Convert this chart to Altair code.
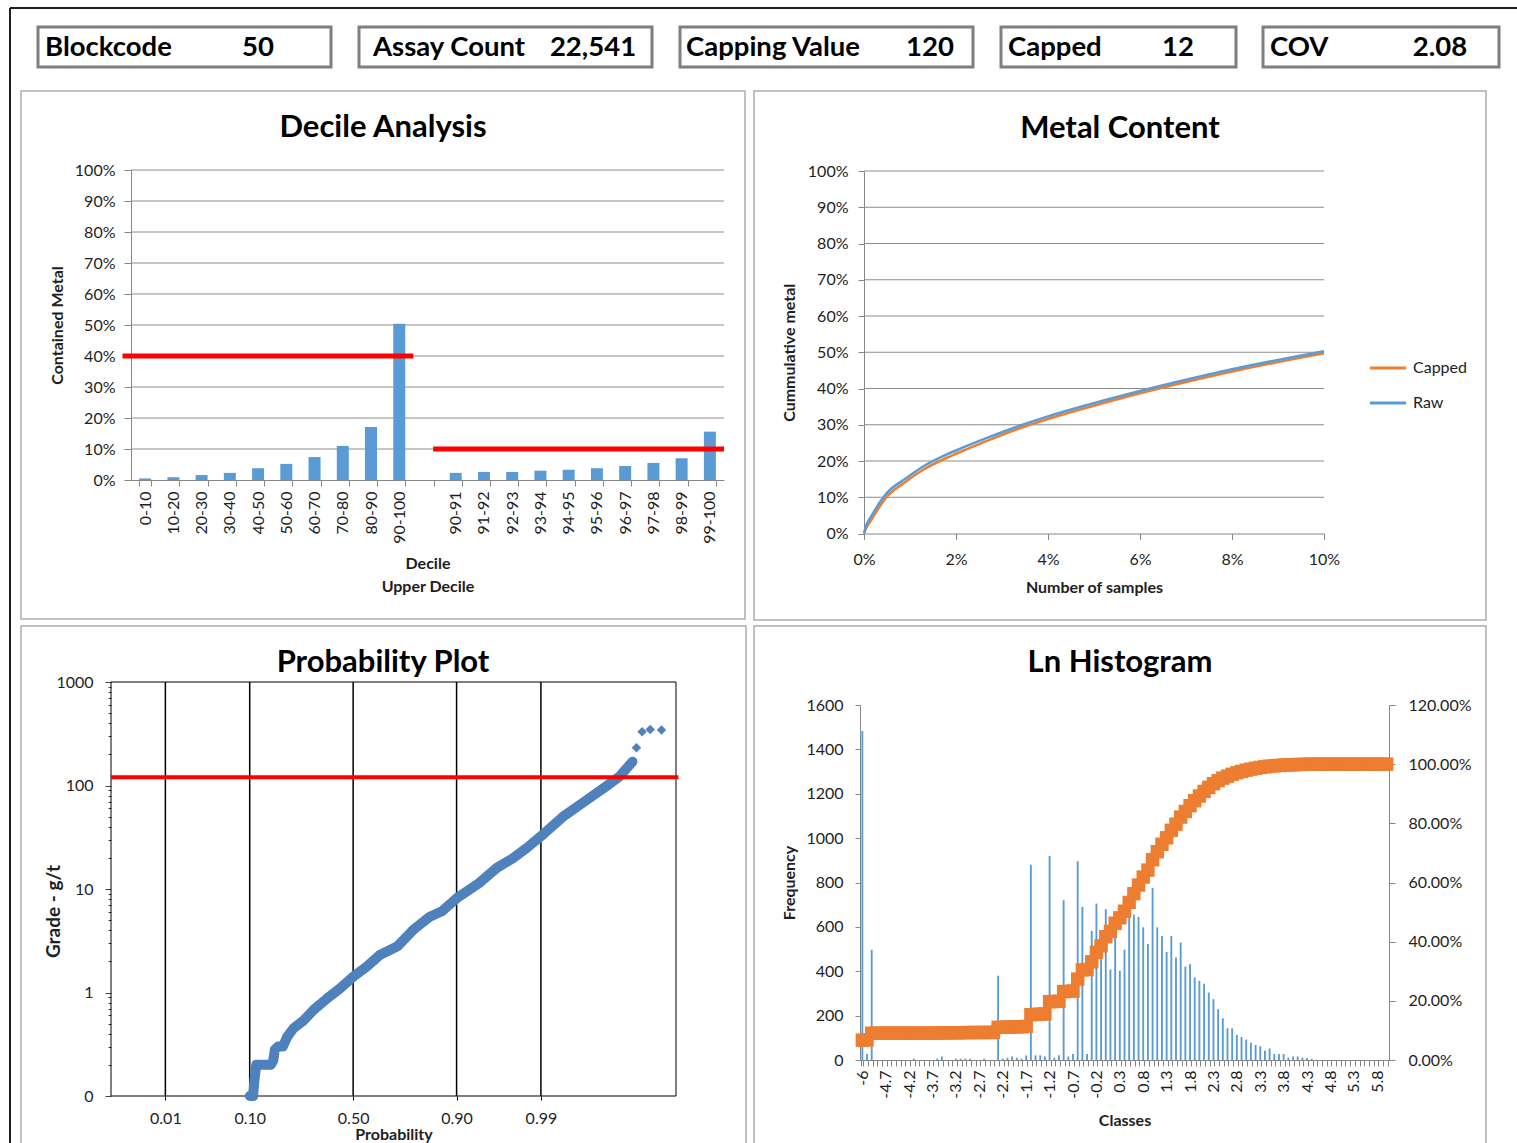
import altair as alt
import pandas as pd
from statistics import NormalDist

W, H = 1517, 1143
FONT = "Lato"
BLUE = "#5B9BD5"
ORANGE = "#ED7D31"
PBLUE = "#4F81BD"
RED = "#FF0000"
GRID = "#8C8C8C"
AXC = "#868686"
TXT = "#1E1E1E"

# ---------------- data ----------------
header_labels = ["Blockcode", "Assay Count", "Capping Value", "Capped", "COV"]
header_values = ["50", "22,541", "120", "12", "2.08"]

decile_cats = ["0-10", "10-20", "20-30", "30-40", "40-50", "50-60", "60-70", "70-80", "80-90", "90-100", " ",
               "90-91", "91-92", "92-93", "93-94", "94-95", "95-96", "96-97", "97-98", "98-99", "99-100"]
decile_share = [0.005, 0.009, 0.016, 0.023, 0.038, 0.052, 0.074, 0.110, 0.171, 0.504, None,
                0.023, 0.026, 0.026, 0.030, 0.033, 0.038, 0.045, 0.055, 0.070, 0.156]
decile_ref_level = [0.40, 0.10]
decile_ref_from = [-0.3, 10.7]
decile_ref_to = [10.0, 21.0]
pct_levels = [0.1, 0.2, 0.3, 0.4, 0.5, 0.6, 0.7, 0.8, 0.9, 1.0]

metal_samples = [0, 0.05, 0.15, 0.5, 0.9, 1.25, 1.8, 2.0, 2.7, 3.4, 4.0, 4.9, 6.0, 7.0, 8.0, 9.25, 10.0]
metal_raw = [0, 2.3, 4.6, 11.2, 15.1, 18.2, 21.8, 22.9, 26.5, 29.8, 32.3, 35.6, 39.3, 42.4, 45.3, 48.5, 50.3]
metal_capped = [0, 1.5, 3.6, 10.2, 14.2, 17.3, 20.9, 22.0, 25.7, 29.1, 31.6, 34.9, 38.7, 41.8, 44.7, 47.9, 49.7]
metal_levels = [10, 20, 30, 40, 50, 60, 70, 80, 90, 100]

prob_score = [-1.28, -1.24, -1.22, -1.20, -1.15, -1.08, -1.02, -0.99, -0.97, -0.93, -0.87, -0.82, -0.74,
              -0.61, -0.49, -0.32, -0.16, 0.0, 0.17, 0.33, 0.55, 0.74, 0.95, 1.10, 1.28, 1.56, 1.78,
              1.98, 2.15, 2.32, 2.60, 2.89, 3.13, 3.30, 3.46]
prob_grade = [0.1, 0.1, 0.15, 0.2, 0.2, 0.2, 0.2, 0.22, 0.28, 0.3, 0.3, 0.37, 0.45,
              0.54, 0.68, 0.88, 1.1, 1.42, 1.78, 2.3, 2.8, 4.0, 5.4, 6.1, 8.1, 11.4, 16,
              19.8, 24.9, 32, 50, 72, 97.5, 122, 170]
prob_out_score = [3.51, 3.58, 3.68, 3.82]
prob_out_grade = [232, 331, 347, 344]
prob_ticks = [0.01, 0.10, 0.50, 0.90, 0.99]
grade_major = [0.1, 1, 10, 100, 1000]
grade_minor = [0.2, 0.3, 0.4, 0.5, 0.6, 0.7, 0.8, 0.9, 2, 3, 4, 5, 6, 7, 8, 9,
               20, 30, 40, 50, 60, 70, 80, 90, 200, 300, 400, 500, 600, 700, 800, 900]
capping_value = 120

hist_classes = [-6,
                -5.1, -5.0, -4.9, -4.8, -4.7, -4.6, -4.5, -4.4, -4.3, -4.2,
                -4.1, -4.0, -3.9, -3.8, -3.7, -3.6, -3.5, -3.4, -3.3, -3.2,
                -3.1, -3.0, -2.9, -2.8, -2.7, -2.6, -2.5, -2.4, -2.3, -2.2,
                -2.1, -2.0, -1.9, -1.8, -1.7, -1.6, -1.5, -1.4, -1.3, -1.2,
                -1.1, -1.0, -0.9, -0.8, -0.7, -0.6, -0.5, -0.4, -0.3, -0.2,
                -0.1, 0.0, 0.1, 0.2, 0.3, 0.4, 0.5, 0.6, 0.7, 0.8,
                0.9, 1.0, 1.1, 1.2, 1.3, 1.4, 1.5, 1.6, 1.7, 1.8,
                1.9, 2.0, 2.1, 2.2, 2.3, 2.4, 2.5, 2.6, 2.7, 2.8,
                2.9, 3.0, 3.1, 3.2, 3.3, 3.4, 3.5, 3.6, 3.7, 3.8,
                3.9, 4.0, 4.1, 4.2, 4.3, 4.4, 4.5, 4.6, 4.7, 4.8,
                4.9, 5.0, 5.1, 5.2, 5.3, 5.4, 5.5, 5.6, 5.7, 5.8,
                5.9, 6.0]
hist_freq = [1483, 27, 497, 0, 0, 0, 0, 0, 0, 0,
             0, 6, 0, 0, 0, 0, 6, 16, 0, 0,
             6, 6, 6, 6, 0, 0, 6, 0, 0, 380,
             6, 10, 16, 10, 6, 21, 880, 21, 21, 16,
             920, 10, 21, 720, 16, 27, 896, 690, 27, 582,
             705, 490, 680, 408, 605, 402, 497, 660, 655, 645,
             598, 523, 776, 598, 559, 487, 559, 462, 529, 421,
             431, 372, 357, 344, 304, 274, 229, 188, 143, 143,
             113, 104, 92, 78, 68, 62, 42, 52, 27, 27,
             27, 11, 16, 16, 11, 9, 5, 0, 0, 0,
             0, 0, 0, 0, 0, 0, 0, 0, 0, 0,
             0, 0, 0]

# ---------------- layout (pixels) ----------------
HEADER_BOXES = [(38, 331), (359, 652), (680, 973), (1001, 1236), (1263, 1499)]
HEADER_LABEL_X = [45, 373, 686, 1008, 1270]
HEADER_VALUE_X = [258, 593, 930, 1178, 1440]
FRAMES = [(21, 91, 745, 619), (754, 91, 1486, 620), (21, 626, 746, 1160), (754, 626, 1486, 1160)]
TITLES = [("Decile Analysis", 383, 128), ("Metal Content", 1120, 129),
          ("Probability Plot", 383, 663), ("Ln Histogram", 1120, 663)]
D_X, D_Y = [131, 724], [480, 170]
M_X, M_Y = [864, 1324], [533.5, 171]
P_X, P_Y = [111, 676], [1096, 682]
H_X, H_Y = [860, 1389], [1060, 705]


def axis(orient, pos, **kw):
    if orient == "bottom":
        off = pos - H
    elif orient == "left":
        off = -pos
    else:
        off = pos - W
    base = dict(labelFlush=False, labelOverlap=False, grid=False)
    base.update(kw)
    return alt.Axis(orient=orient, offset=off, **base)


def lin(domain, rng):
    return alt.Scale(domain=domain, range=rng, nice=False, zero=False)


layers = []

# outer border
border = pd.DataFrame({"x": [10, 10], "x2": [W, 10], "y": [8, 8], "y2": [8, H]})
layers.append(alt.Chart(border).mark_rule(color="#1F1F1F", strokeWidth=2).encode(
    x=alt.X("x:Q", scale=None), x2="x2:Q", y=alt.Y("y:Q", scale=None), y2="y2:Q"))

# header boxes
hdr = pd.DataFrame({"label": header_labels, "value": header_values,
                    "x0": [b[0] for b in HEADER_BOXES], "x1": [b[1] for b in HEADER_BOXES],
                    "lx": HEADER_LABEL_X, "vx": HEADER_VALUE_X})
hdr["y0"], hdr["y1"], hdr["ty"] = 27, 67, 48
layers.append(alt.Chart(hdr).mark_rect(fill="white", stroke="#7F7F7F", strokeWidth=3).encode(
    x=alt.X("x0:Q", scale=None), x2="x1:Q", y=alt.Y("y0:Q", scale=None), y2="y1:Q"))
layers.append(alt.Chart(hdr).mark_text(align="left", baseline="middle", font=FONT, fontSize=27.5,
                                       fontWeight="bold", color="black").encode(
    x=alt.X("lx:Q", scale=None), y=alt.Y("ty:Q", scale=None), text="label:N"))
layers.append(alt.Chart(hdr).mark_text(align="center", baseline="middle", font=FONT, fontSize=27.5,
                                       fontWeight="bold", color="black").encode(
    x=alt.X("vx:Q", scale=None), y=alt.Y("ty:Q", scale=None), text="value:N"))

# panel frames and titles
frm = pd.DataFrame(FRAMES, columns=["x0", "y0", "x1", "y1"])
layers.append(alt.Chart(frm).mark_rect(fillOpacity=0, stroke="#ADADAD", strokeWidth=1.5).encode(
    x=alt.X("x0:Q", scale=None), x2="x1:Q", y=alt.Y("y0:Q", scale=None), y2="y1:Q"))
ttl = pd.DataFrame(TITLES, columns=["t", "x", "y"])
layers.append(alt.Chart(ttl).mark_text(align="center", baseline="middle", font=FONT, fontSize=31,
                                       fontWeight="bold", color="black").encode(
    x=alt.X("x:Q", scale=None), y=alt.Y("y:Q", scale=None), text="t:N"))

# ---------------- Decile Analysis ----------------
dec = pd.DataFrame({"cat": decile_cats, "share": decile_share}).dropna()
dx_band = alt.Scale(domain=decile_cats, range=D_X, paddingInner=0.575, paddingOuter=0.2875)
dx_lin = lin([0, len(decile_cats)], D_X)
dy = lin([0, 1], D_Y)
dgrid = pd.DataFrame({"lvl": pct_levels})
dgrid["a"], dgrid["b"] = 0, len(decile_cats)
layers.append(alt.Chart(dgrid).mark_rule(color=GRID, strokeWidth=1).encode(
    x=alt.X("a:Q", scale=dx_lin, axis=None), x2="b:Q",
    y=alt.Y("lvl:Q", scale=dy, axis=None)))
layers.append(alt.Chart(dec).mark_bar(color=BLUE).encode(
    x=alt.X("cat:N", scale=dx_band, sort=decile_cats,
            axis=axis("bottom", D_Y[0], title=["Decile", "Upper Decile"], labelAngle=-90,
                      tickBand="extent", tickSize=6, labelPadding=5, titlePadding=12,
                      titleLineHeight=23)),
    y=alt.Y("share:Q", scale=dy,
            axis=axis("left", D_X[0], values=[0] + pct_levels, format=".0%", title="Contained Metal",
                      tickSize=7, labelPadding=9, titlePadding=9))))
dref = pd.DataFrame({"lvl": decile_ref_level, "a": decile_ref_from, "b": decile_ref_to})
layers.append(alt.Chart(dref).mark_rule(color=RED, strokeWidth=5).encode(
    x=alt.X("a:Q", scale=dx_lin, axis=None), x2="b:Q",
    y=alt.Y("lvl:Q", scale=dy, axis=None)))

# ---------------- Metal Content ----------------
mx = lin([0, 10], M_X)
my = lin([0, 100], M_Y)
mgrid = pd.DataFrame({"lvl": metal_levels})
mgrid["a"], mgrid["b"] = 0, 10
layers.append(alt.Chart(mgrid).mark_rule(color=GRID, strokeWidth=1).encode(
    x=alt.X("a:Q", scale=mx, axis=None), x2="b:Q",
    y=alt.Y("lvl:Q", scale=my, axis=None)))
metal = pd.concat([
    pd.DataFrame({"series": "Capped", "samples": metal_samples, "metal": metal_capped}),
    pd.DataFrame({"series": "Raw", "samples": metal_samples, "metal": metal_raw}),
])
layers.append(alt.Chart(metal).mark_line(strokeWidth=2.5, interpolate="monotone").encode(
    x=alt.X("samples:Q", scale=mx,
            axis=axis("bottom", M_Y[0], values=[0, 2, 4, 6, 8, 10], labelExpr="datum.value + '%'",
                      title="Number of samples", tickSize=6, labelPadding=12, titlePadding=12)),
    y=alt.Y("metal:Q", scale=my,
            axis=axis("left", M_X[0], values=[0] + metal_levels, labelExpr="datum.value + '%'",
                      title="Cummulative metal", tickSize=6, labelPadding=10, titlePadding=10)),
    color=alt.Color("series:N", scale=alt.Scale(domain=["Capped", "Raw"], range=[ORANGE, BLUE]),
                    legend=alt.Legend(title=None, orient="none", legendX=1368, legendY=348,
                                      symbolType="stroke", symbolSize=1300, symbolStrokeWidth=3,
                                      labelFont=FONT, labelFontSize=16, labelColor=TXT,
                                      rowPadding=7, labelOffset=5, padding=0)),
    order=alt.Order("samples:Q")))

# ---------------- Probability Plot ----------------
z_ticks = [NormalDist().inv_cdf(p) for p in prob_ticks]
px = lin([-3, 4], P_X)
py = alt.Scale(type="log", domain=[0.1, 1000], range=P_Y, nice=False)
pframe = pd.DataFrame({"a": [-3], "b": [4], "c": [0.1], "d": [1000]})
layers.append(alt.Chart(pframe).mark_rect(fillOpacity=0, stroke="black", strokeWidth=1).encode(
    x=alt.X("a:Q", scale=px, axis=None), x2="b:Q",
    y=alt.Y("c:Q", scale=py, axis=axis("left", P_X[0], values=grade_minor, labels=False, domain=False,
                                       tickSize=3, tickColor="#444444", title=None)),
    y2="d:Q"))
pv = pd.DataFrame({"z": z_ticks})
pv["c"], pv["d"] = 0.1, 1000
layers.append(alt.Chart(pv).mark_rule(color="black", strokeWidth=1.5).encode(
    x=alt.X("z:Q", scale=px,
            axis=axis("bottom", P_Y[0], values=z_ticks,
                      labelExpr="format(cumulativeNormal(datum.value), '.2f')",
                      title="Probability", domain=False, tickSize=4, tickColor="black",
                      labelPadding=10, titlePadding=0, titleFontSize=16)),
    y=alt.Y("c:Q", scale=py,
            axis=axis("left", P_X[0], values=grade_major,
                      labelExpr="datum.value < 1 ? '0' : format(datum.value, 'd')",
                      title="Grade - g/t", domain=False, tickSize=6, tickColor="#444444",
                      labelPadding=12, titleFontSize=19, titleX=-58, titleY=911,
                      titleBaseline="middle", titleAlign="center", titleAngle=-90)),
    y2="d:Q"))
pcurve = pd.DataFrame({"z": prob_score, "g": prob_grade})
pout = pd.DataFrame({"z": prob_out_score, "g": prob_out_grade})
layers.append(alt.Chart(pcurve).mark_line(color=PBLUE, strokeWidth=10, strokeJoin="round",
                                          strokeCap="round").encode(
    x=alt.X("z:Q", scale=px, axis=None), y=alt.Y("g:Q", scale=py, axis=None),
    order=alt.Order("z:Q")))
layers.append(alt.Chart(pd.concat([pcurve, pout])).mark_point(
    shape="diamond", filled=True, size=90, color=PBLUE, opacity=1).encode(
    x=alt.X("z:Q", scale=px, axis=None), y=alt.Y("g:Q", scale=py, axis=None)))
pcap = pd.DataFrame({"g": [capping_value], "a": [-3], "b": [4.03]})
layers.append(alt.Chart(pcap).mark_rule(color=RED, strokeWidth=4).encode(
    x=alt.X("a:Q", scale=px, axis=None), x2="b:Q", y=alt.Y("g:Q", scale=py, axis=None)))

# ---------------- Ln Histogram ----------------
cls = [str(c) for c in hist_classes]
hist = pd.DataFrame({"idx": list(range(len(cls))), "cls": cls, "freq": hist_freq})
shown = cls[::5]
label_expr = "indexof([" + ",".join("'%s'" % s for s in shown) + "], datum.label) >= 0 ? datum.label : ''"
hx = alt.Scale(domain=cls, range=H_X, paddingInner=0.6, paddingOuter=0.3)
hy = lin([0, 1600], H_Y)
hy2 = lin([0, 1.2], H_Y)
layers.append(alt.Chart(hist).transform_filter("datum.freq > 0").mark_bar(color=BLUE).encode(
    x=alt.X("cls:N", scale=hx, sort=cls,
            axis=axis("bottom", H_Y[0], labelExpr=label_expr, labelAngle=-90, tickBand="extent",
                      tickSize=6, labelPadding=4, title="Classes", titlePadding=14)),
    y=alt.Y("freq:Q", scale=hy,
            axis=axis("left", H_X[0], values=[0, 200, 400, 600, 800, 1000, 1200, 1400, 1600],
                      format="d", title="Frequency", tickSize=5, labelPadding=12, titlePadding=8))))
layers.append(alt.Chart(hist).transform_window(
    cum="sum(freq)", sort=[alt.SortField("idx")], frame=[None, 0]
).transform_joinaggregate(total="sum(freq)").transform_calculate(
    pct="datum.cum / datum.total"
).mark_square(size=180, color=ORANGE, filled=True, opacity=1).encode(
    x=alt.X("cls:N", scale=hx, sort=cls, axis=None),
    y=alt.Y("pct:Q", scale=hy2,
            axis=axis("right", H_X[1], values=[0, 0.2, 0.4, 0.6, 0.8, 1.0, 1.2], format=".2%",
                      title=None, tickSize=6, labelPadding=13))))

chart = alt.layer(*layers).resolve_scale(
    x="independent", y="independent", color="independent"
).resolve_axis(x="independent", y="independent").properties(
    width=W, height=H, padding=0, background="white",
    autosize=alt.AutoSizeParams(type="none")
).configure_view(stroke=None).configure_axis(
    labelFont=FONT, titleFont=FONT, labelFontSize=16, titleFontSize=16, titleFontWeight="bold",
    labelColor=TXT, titleColor=TXT, domainColor=AXC, tickColor=AXC, domainWidth=1, tickWidth=1
)

chart.save("out.html", embed_options={"renderer": "svg", "actions": False})
